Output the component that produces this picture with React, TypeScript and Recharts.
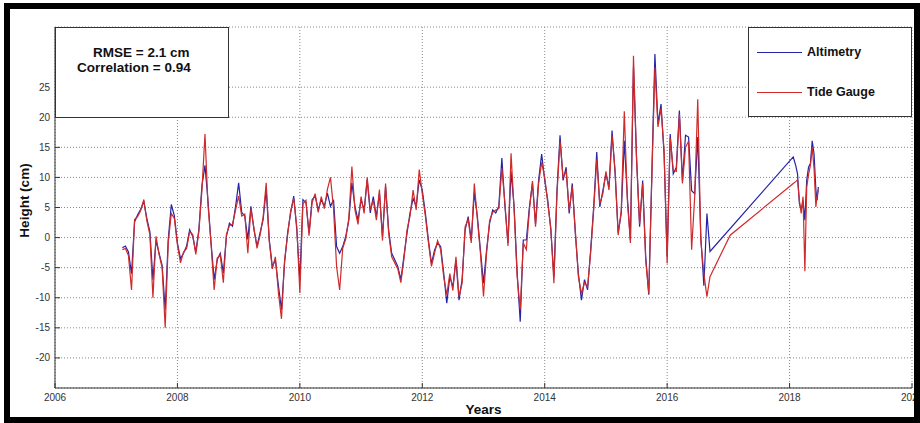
import { LineChart, Line, XAxis, YAxis, CartesianGrid, Legend, Label } from 'recharts';

// main record sampled every 0.05 yr starting 2007.10
const startYear = 2007.1;
const stepYear = 0.05;

const altimetry = [
  -1.7, -1.4, -2.4, -6.0, 2.6, 3.8, 4.7, 6.0, 3.2, 1.0,
  -7.0, -0.5, -2.6, -4.6, -12.0, -0.3, 5.5, 3.6, -0.9, -3.5,
  -2.6, -1.4, 1.3, 0.2, -2.4, 1.3, 8.6, 12.0, 6.0, -0.9,
  -7.0, -3.7, -2.6, -5.9, 0.2, 2.4, 1.9, 5.2, 9.1, 4.2,
  3.6, -0.3, 5.2, 1.3, -1.4, 0.8, 3.0, 8.0, -0.3, -4.8,
  -3.7, -8.0, -12.0, -4.2, 0.8, 4.1, 6.9, 1.3, -7.0, 6.3,
  5.8, 0.8, 6.3, 6.9, 4.6, 6.3, 5.2, 7.4, 5.2, 6.3,
  -1.5, -2.6, -1.5, 0.2, 2.9, 9.1, 5.2, 2.9, 6.3, 4.6,
  9.6, 4.1, 6.8, 3.5, 7.4, 0.2, 8.5, 1.3, -2.6, -3.7,
  -4.8, -7.0, -3.1, 0.7, 4.1, 6.5, 5.2, 9.6, 7.9, 4.1,
  -0.4, -4.3, -2.1, -0.9, -1.5, -5.9, -10.9, -6.5, -8.2, -3.7,
  -10.4, -7.0, 1.3, 3.5, -0.4, 7.4, 3.5, -2.1, -7.6, -2.1,
  2.4, 4.6, 4.1, 5.2, 13.2, 5.2, -0.9, 11.0, 5.2, -5.9,
  -14.0, -0.4, -0.4, 5.1, 9.0, 2.3, 9.5, 13.9, 9.5, 6.2,
  1.2, -6.5, 7.8, 17.0, 9.5, 11.7, 4.0, 9.0, 0.7, -6.0,
  -10.4, -7.0, -8.7, -2.1, 5.1, 14.2, 5.1, 7.8, 10.6, 8.4,
  17.8, 10.6, 0.8, 4.0, 16.1, 6.7, -0.4, 28.3, 13.4, 1.8,
  9.5, -3.2, -9.5, 10.6, 30.5, 18.9, 22.2, 13.9, -3.2, 17.2,
  10.6, 11.7, 21.1, 9.5, 17.0, 16.7, 7.8, 7.3, 16.7, 0.1,
  -8.0, 4.0, -2.3,
];

const tideGauge = [
  -2.0, -1.8, -3.0, -8.7, 3.0, 3.5, 4.5, 6.3, 2.8, 0.5,
  -10.0, 0.2, -2.8, -5.0, -15.0, -0.8, 4.0, 3.2, -1.2, -4.2,
  -2.4, -1.8, 1.0, 0.5, -2.8, 1.0, 7.8, 17.2, 5.3, -1.2,
  -8.7, -3.4, -2.9, -7.5, 0.5, 2.0, 2.2, 4.6, 6.9, 3.6,
  3.9, -2.6, 4.8, 1.6, -1.8, 0.4, 3.4, 9.1, -0.6, -5.2,
  -3.2, -9.2, -13.5, -3.8, 0.4, 4.5, 6.5, 1.8, -9.2, 5.6,
  6.2, 0.3, 5.8, 7.3, 4.2, 6.8, 4.8, 8.0, 10.0, 4.8,
  -4.8, -8.7, -1.8, -0.2, 3.2, 11.8, 4.6, 2.2, 6.8, 4.0,
  10.0, 4.6, 6.2, 2.9, 8.0, -0.5, 9.0, 0.8, -3.2, -4.2,
  -5.2, -7.5, -3.6, 1.2, 3.6, 7.9, 4.6, 11.3, 7.3, 3.6,
  -0.8, -4.8, -2.6, -0.5, -2.0, -6.5, -9.5, -6.0, -8.8, -3.2,
  -9.8, -7.6, 1.8, 3.0, -0.9, 9.0, 3.0, -2.6, -9.8, -2.6,
  2.8, 4.2, 4.6, 4.8, 11.5, 5.8, -1.4, 14.0, 4.6, -6.5,
  -12.0, -0.9, -2.0, 4.6, 9.4, 1.8, 9.0, 12.5, 10.0, 5.7,
  1.6, -7.6, 7.2, 16.0, 10.0, 11.0, 4.5, 8.5, 1.2, -6.5,
  -9.3, -7.5, -8.2, -2.6, 4.6, 13.0, 5.6, 7.3, 11.0, 7.9,
  17.0, 11.2, 0.4, 4.5, 21.0, 6.2, -0.9, 30.2, 13.0, 2.3,
  9.0, -3.8, -9.3, 10.0, 28.3, 18.4, 21.5, 14.4, -4.3, 16.6,
  11.2, 11.0, 20.5, 9.0, 15.0, 16.0, -2.0, 6.8, 23.0, -0.5,
  -6.0, -9.8, -6.5,
];

// after the data gap
const lateYears = [2017.03, 2018.06, 2018.1, 2018.13, 2018.16, 2018.19, 2018.22, 2018.25, 2018.28, 2018.31, 2018.34, 2018.37, 2018.4, 2018.43, 2018.45, 2018.47];
const lateAltimetry = [null, 13.4, 12.0, 10.6, 5.7, 4.6, 6.2, 2.9, 9.5, 11.7, 12.3, 16.1, 13.9, 7.9, 6.2, 8.4];
const lateTideGauge = [0.4, 9.0, 9.3, 9.6, 6.2, 4.0, 6.8, -5.6, 8.4, 10.5, 12.0, 15.0, 11.5, 5.1, 7.0, 8.0];

const xTicks = [2006, 2008, 2010, 2012, 2014, 2016, 2018, 2020];
const yTicks = [-20, -15, -10, -5, 0, 5, 10, 15, 20, 25];

const data = [
  ...altimetry.map((v, i) => ({ year: +(startYear + i * stepYear).toFixed(2), alt: v, tg: tideGauge[i] })),
  ...lateYears.map((y, i) => ({ year: y, alt: lateAltimetry[i], tg: lateTideGauge[i] })),
];

const FONT = '"Liberation Sans", Arial, sans-serif';
const AXIS = '#333';
const tickStyle = { fontFamily: FONT, fontSize: 10, fill: '#333' };

function BottomTick({ x, y, payload }: any) {
  return (
    <g>
      <line x1={x} x2={x} y1={y - 4} y2={y - 9} stroke={AXIS} />
      <text x={x} y={y} dy="0.85em" textAnchor="middle" style={tickStyle}>{payload.value}</text>
    </g>
  );
}

function LeftTick({ x, y, payload }: any) {
  return (
    <g>
      <line x1={x + 5} x2={x + 10} y1={y} y2={y} stroke={AXIS} />
      <text x={x} y={y} dy="0.35em" textAnchor="end" style={tickStyle}>{payload.value}</text>
    </g>
  );
}

function TopTick({ x, y }: any) {
  return <line x1={x} x2={x} y1={y} y2={y + 5} stroke={AXIS} />;
}

function RightTick({ x, y }: any) {
  return <line x1={x} x2={x - 5} y1={y} y2={y} stroke={AXIS} />;
}

function YLabel({ viewBox }: any) {
  const cx = viewBox.x + 24;
  const cy = viewBox.y + viewBox.height / 2 - 7;
  return (
    <text x={cx} y={cy} transform={`rotate(-90 ${cx} ${cy})`} textAnchor="middle" dominantBaseline="central"
      style={{ fontFamily: FONT, fontSize: 13.5, fontWeight: 700, fill: '#111' }}>
      Height (cm)
    </text>
  );
}

function LegendBox({ payload }: any) {
  return (
    <div style={{ width: 164, height: 90, border: '1px solid #333', background: '#fff', boxSizing: 'border-box', position: 'relative' }}>
      {(payload || []).map((p: any, i: number) => (
        <div key={p.value} style={{ position: 'absolute', left: 8, top: 16 + i * 40, height: 16, display: 'flex', alignItems: 'center' }}>
          <span style={{ display: 'inline-block', width: 45, borderTop: `1px solid ${p.color}` }} />
          <span style={{ marginLeft: 5, fontFamily: FONT, fontSize: 12.5, fontWeight: 700, color: '#111' }}>{p.value}</span>
        </div>
      ))}
    </div>
  );
}

export default function App() {
  return (
    <div style={{ position: 'absolute', left: 0, top: 0, width: 920, height: 423, background: '#fff' }}>
      <div style={{ position: 'absolute', left: 0, top: 0 }}>
        <LineChart width={920} height={423} data={data} margin={{ top: 27, right: 8, bottom: 0, left: 0 }}>
          <CartesianGrid stroke="#888" strokeDasharray="1 2" />
          <XAxis dataKey="year" type="number" domain={[2006, 2020]} ticks={xTicks} interval={0} allowDataOverflow
            height={35} tickSize={3} tickMargin={1} tickLine={false} stroke={AXIS} tick={<BottomTick />}>
            <Label value="Years" position="insideBottom" offset={9}
              style={{ fontFamily: FONT, fontSize: 13.5, fontWeight: 700, fill: '#111' }} />
          </XAxis>
          <XAxis xAxisId="top" orientation="top" type="number" domain={[2006, 2020]} ticks={xTicks} interval={0}
            height={0} tickSize={0} tickMargin={0} tickLine={false} stroke={AXIS} tick={<TopTick />} />
          <YAxis type="number" domain={[-25, 35]} ticks={yTicks} interval={0} allowDataOverflow
            width={55} tickSize={3} tickMargin={2} tickLine={false} stroke={AXIS} tick={<LeftTick />}>
            <Label content={<YLabel />} />
          </YAxis>
          <YAxis yAxisId="right" orientation="right" type="number" domain={[-25, 35]} ticks={yTicks} interval={0}
            width={0} tickSize={0} tickMargin={0} tickLine={false} stroke={AXIS} tick={<RightTick />} />
          <Line type="linear" dataKey="alt" name="Altimetry" stroke="#2424a6" strokeWidth={1.2} dot={false}
            connectNulls isAnimationActive={false} />
          <Line type="linear" dataKey="tg" name="Tide Gauge" stroke="#d02a2a" strokeWidth={1.2} dot={false}
            connectNulls isAnimationActive={false} />
          <Legend layout="horizontal" verticalAlign="middle" align="center" content={<LegendBox />}
            wrapperStyle={{ left: 748, top: 27, width: 164, height: 90 }} />
        </LineChart>
      </div>
      <div style={{ position: 'absolute', left: 4, top: 3, width: 916, height: 420, border: '6px solid #000', boxSizing: 'border-box', pointerEvents: 'none' }} />
      <div style={{ position: 'absolute', left: 55, top: 27, width: 174, height: 91, border: '1px solid #333', background: '#fff', boxSizing: 'border-box', fontFamily: FONT, fontWeight: 700, fontSize: 13.5, color: '#111', lineHeight: '15px' }}>
        <div style={{ position: 'absolute', left: 37, top: 17, whiteSpace: 'nowrap' }}>RMSE = 2.1 cm</div>
        <div style={{ position: 'absolute', left: 21, top: 32, whiteSpace: 'nowrap' }}>Correlation = 0.94</div>
      </div>
    </div>
  );
}
